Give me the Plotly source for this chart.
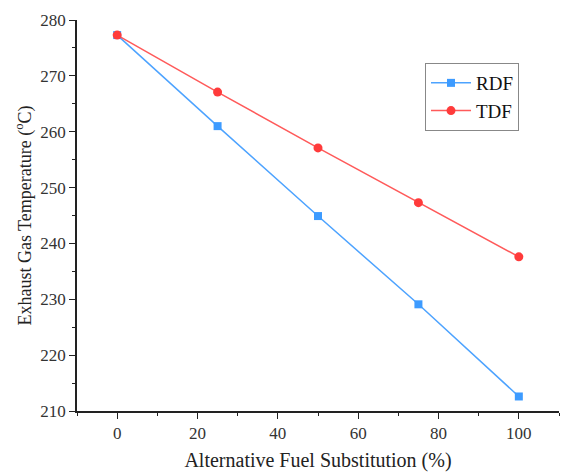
import plotly.graph_objects as go

substitution = [0, 25, 50, 75, 100]
rdf_temp = [277.3, 261.0, 244.9, 229.1, 212.6]
tdf_temp = [277.3, 267.1, 257.1, 247.3, 237.6]

font_family = "Liberation Serif, Times New Roman, serif"

fig = go.Figure()
fig.add_trace(go.Scatter(
    x=substitution, y=rdf_temp, name="RDF", mode="lines+markers",
    line=dict(color="#4da3ff", width=1.5),
    marker=dict(symbol="square", size=8, color="#3d9bff"),
))
fig.add_trace(go.Scatter(
    x=substitution, y=tdf_temp, name="TDF", mode="lines+markers",
    line=dict(color="#ff5a5a", width=1.5),
    marker=dict(symbol="circle", size=9, color="#ff3b3b"),
))

axis_common = dict(
    showgrid=False, zeroline=False, showline=True, linecolor="#222", linewidth=1.5,
    ticks="outside", ticklen=6, tickwidth=1.2, tickcolor="#222",
    tickfont=dict(family=font_family, size=17, color="#333"),
    mirror=False,
)

fig.update_xaxes(
    range=[-10, 110], tickvals=[0, 20, 40, 60, 80, 100],
    minor=dict(ticks="outside", ticklen=3, tickwidth=1.2, tickcolor="#222", dtick=10, tick0=0),
    title=dict(text="Alternative Fuel Substitution (%)",
               font=dict(family=font_family, size=20, color="#222"), standoff=11),
    **axis_common,
)
fig.update_yaxes(
    range=[210, 280], dtick=10,
    minor=dict(ticks="outside", ticklen=3, tickwidth=1.2, tickcolor="#222", dtick=5, tick0=210),
    title=dict(text="Exhaust Gas Temperature (<sup>o</sup>C)",
               font=dict(family=font_family, size=18, color="#222"), standoff=4),
    **axis_common,
)

fig.update_layout(
    width=561, height=476,
    margin=dict(l=77, r=2, t=20, b=65),
    plot_bgcolor="white", paper_bgcolor="white",
    legend=dict(
        x=0.722, y=0.89, xanchor="left", yanchor="top",
        bordercolor="#888", borderwidth=1, bgcolor="white",
        font=dict(family=font_family, size=19, color="#111"),
        itemwidth=40, tracegroupgap=0,
    ),
)

fig.write_html("out.html")
